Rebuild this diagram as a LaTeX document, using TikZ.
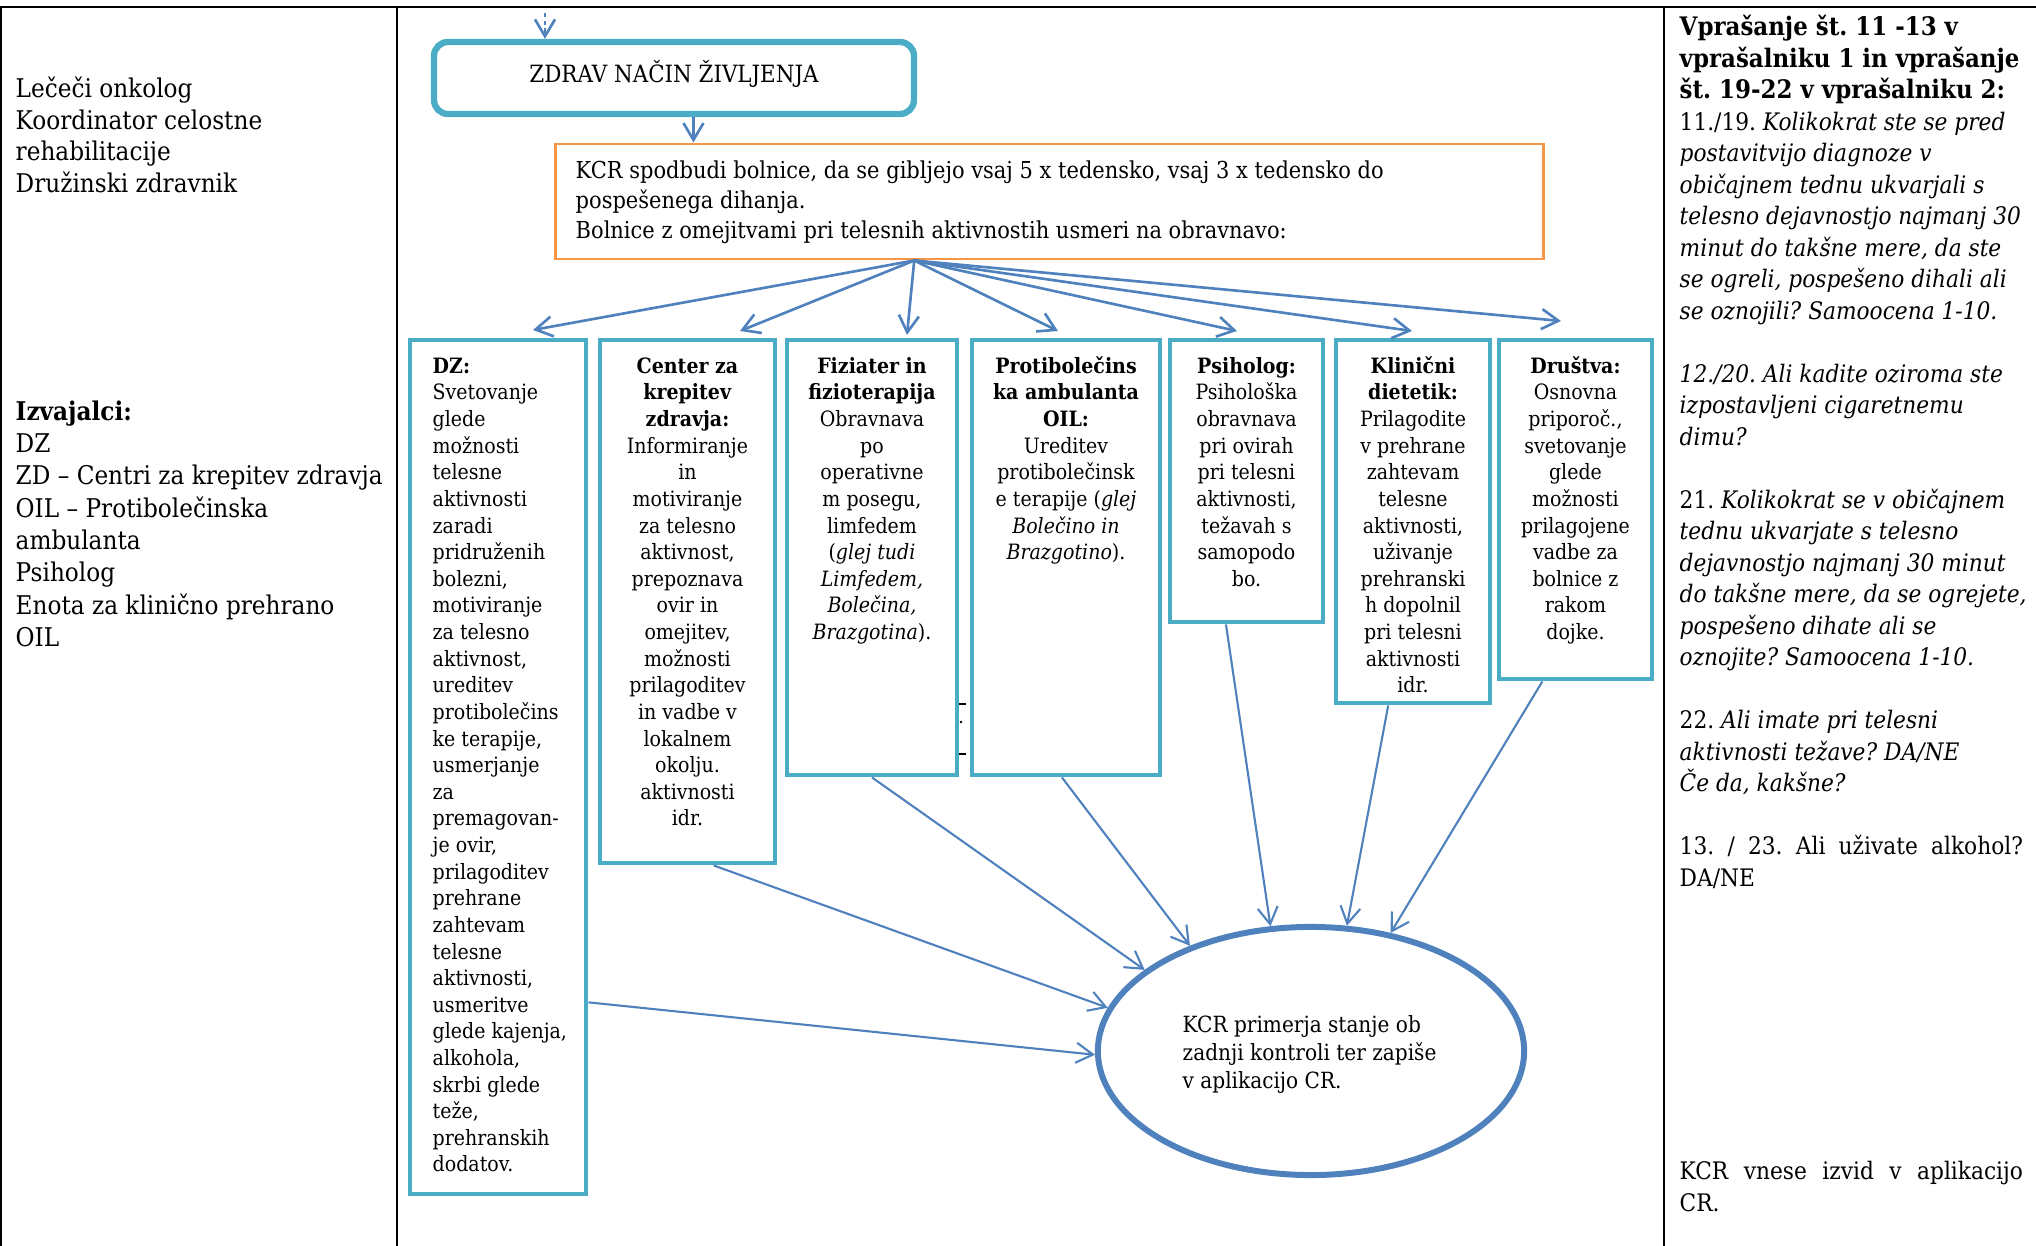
\documentclass[tikz,border=0pt]{standalone}
\usepackage{fontspec}
\setmainfont{DejaVu Serif}[FakeStretch=0.9]
\usetikzlibrary{arrows.meta,shapes.geometric,fit,calc}
\frenchspacing

\definecolor{boxblue}{HTML}{4BACC6}
\definecolor{lineblue}{HTML}{4F81BD}
\definecolor{frameorange}{HTML}{F79646}

% font sizes (1 unit = 0.01cm in the picture)
\newcommand{\fsCol}{\fontsize{7.33pt}{8.96pt}\selectfont}
\newcommand{\fsColB}{\fontsize{7.33pt}{9.19pt}\selectfont}
\newcommand{\fsRight}{\fontsize{6.86pt}{8.96pt}\selectfont}
\newcommand{\fsHead}{\fontsize{7.25pt}{8.96pt}\selectfont}
\newcommand{\fsTitle}{\fontsize{6.76pt}{8.5pt}\selectfont}
\newcommand{\fsMid}{\fontsize{6.63pt}{8.54pt}\selectfont}
\newcommand{\fsEll}{\fontsize{6.35pt}{7.97pt}\selectfont}
\newcommand{\fsBox}{\fontsize{6.0pt}{7.57pt}\selectfont}

\tikzset{
  rule/.style={line width=0.77pt, black},
  coltext/.style={inner sep=0pt, align=left, anchor=north west},
  stepbox/.style={draw=boxblue, line width=1.4pt, inner sep=0pt},
  titlebox/.style={draw=boxblue, line width=1.8pt, inner sep=0pt, rounded corners=0.14cm},
  kcrbox/.style={draw=frameorange, line width=0.85pt, inner sep=0pt},
  boxtext/.style={inner sep=0pt, align=center, anchor=north, font=\fsBox},
  flow/.style={draw=lineblue, line width=0.75pt, -{Straight Barb[length=4.8pt,width=5.7pt]}},
  thinflow/.style={draw=lineblue, line width=0.6pt, -{Straight Barb[length=4.8pt,width=5.7pt]}},
}

\begin{document}
\begin{tikzpicture}[x=0.01cm, y=-0.01cm]
\useasboundingbox (0,0) rectangle (2036,1246);

% table rules
\draw[rule] (0,7) -- (2036,7);
\draw[rule] (1,7) -- (1,1246);
\draw[rule] (397,7) -- (397,1246);
\draw[rule] (1664,7) -- (1664,1246);

% left column
\node[coltext, font=\fsCol] (roles) at (15,75)
  {\strut Lečeči onkolog\\Koordinator celostne\\rehabilitacije\\Družinski zdravnik};
\node[coltext, font=\fsColB] (providers) at (15,397)
  {\strut\textbf{Izvajalci:}\\DZ\\ZD – Centri za krepitev zdravja\\OIL – Protibolečinska\\ambulanta\\Psiholog\\Enota za klinično prehrano\\OIL};

% right column
\node[coltext, font=\fsRight] (questions) at (1679,13)
  {\strut{\fsHead\textbf{Vprašanje št. 11 -13 v}}\\
   {\fsHead\textbf{vprašalniku 1 in vprašanje}}\\
   {\fsHead\textbf{št. 19-22 v vprašalniku 2:}}\\
   11./19. \textit{Kolikokrat ste se pred}\\
   \textit{postavitvijo diagnoze v}\\
   \textit{običajnem tednu ukvarjali s}\\
   \textit{telesno dejavnostjo najmanj 30}\\
   \textit{minut do takšne mere, da ste}\\
   \textit{se ogreli, pospešeno dihali ali}\\
   \textit{se oznojili? Samoocena 1-10.}\\
   \strut\\
   \textit{12./20. Ali kadite oziroma ste}\\
   \textit{izpostavljeni cigaretnemu}\\
   \textit{dimu?}\\
   \strut\\
   21. \textit{Kolikokrat se v običajnem}\\
   \textit{tednu ukvarjate s telesno}\\
   \textit{dejavnostjo najmanj 30 minut}\\
   \textit{do takšne mere, da se ogrejete,}\\
   \textit{pospešeno dihate ali se}\\
   \textit{oznojite? Samoocena 1-10.}\\
   \strut\\
   22. \textit{Ali imate pri telesni}\\
   \textit{aktivnosti težave? DA/NE}\\
   \textit{Če da, kakšne?}\\
   \strut\\
   \makebox[3.43cm][s]{13. / 23. Ali uživate alkohol?}\\
   DA/NE};
\node[coltext, font=\fsRight] (report) at (1679,1157)
  {\strut\makebox[3.43cm][s]{KCR vnese izvid v aplikacijo}\\CR.};

% title box and entry arrow
\node[titlebox, fit={(434,42) (914,114)}] (tbox) {};
\node[inner sep=0pt, anchor=base, font=\fsTitle] (title) at (674,83) {ZDRAV NAČIN ŽIVLJENJA};
\coordinate (entry) at (545,13);
\draw[flow, dashed, dash pattern=on 1.2pt off 1pt] (entry) -- (entry |- tbox.north);

% KCR box
\node[kcrbox, fit={(555,144) (1543,259)}] (kcr) {};
\node[coltext, font=\fsMid] (kcrtext) at (575,157)
  {\strut KCR spodbudi bolnice, da se gibljejo vsaj 5 x tedensko, vsaj 3 x tedensko do\\
   pospešenega dihanja.\\
   Bolnice z omejitvami pri telesnih aktivnostih usmeri na obravnavo:};
\coordinate (down) at ($(tbox.south west)!0.54!(tbox.south east)$);
\draw[flow] (down) -- (down |- kcr.north);

% provider boxes
\node[stepbox, fit={(410,340) (586,1194)}] (b1) {};
\node[stepbox, fit={(600,340) (775,863)}] (b2) {};
\node[stepbox, fit={(787,340) (957,775)}] (b3) {};
\node[stepbox, fit={(972,340) (1160,775)}] (b4) {};
\node[stepbox, fit={(1170,340) (1323,622)}] (b5) {};
\node[stepbox, fit={(1336,340) (1490,703)}] (b6) {};
\node[stepbox, fit={(1499,340) (1652,679)}] (b7) {};

\node[boxtext, align=left, anchor=north west] (b1t) at (432,354)
  {\strut\textbf{DZ:}\\Svetovanje\\glede\\možnosti\\telesne\\aktivnosti\\zaradi\\pridruženih\\bolezni,\\motiviranje\\za telesno\\aktivnost,\\ureditev\\protibolečins\\ke terapije,\\usmerjanje\\za\\premagovan-\\je ovir,\\prilagoditev\\prehrane\\zahtevam\\telesne\\aktivnosti,\\usmeritve\\glede kajenja,\\alkohola,\\skrbi glede\\teže,\\prehranskih\\dodatov.};
\node[boxtext] (b2t) at (b2.north |- 0,354)
  {\strut\textbf{Center za}\\\textbf{krepitev}\\\textbf{zdravja:}\\Informiranje\\in\\motiviranje\\za telesno\\aktivnost,\\prepoznava\\ovir in\\omejitev,\\možnosti\\prilagoditev\\in vadbe v\\lokalnem\\okolju.\\aktivnosti\\idr.};
\node[boxtext] (b3t) at (b3.north |- 0,354)
  {\strut\textbf{Fiziater in}\\\textbf{fizioterapija}\\Obravnava\\po\\operativne\\m posegu,\\limfedem\\(\textit{glej tudi}\\\textit{Limfedem,}\\\textit{Bolečina,}\\\textit{Brazgotina}).};
\node[boxtext] (b4t) at (b4.north |- 0,354)
  {\strut\textbf{Protibolečins}\\\textbf{ka ambulanta}\\\textbf{OIL:}\\Ureditev\\protibolečinsk\\e terapije (\textit{glej}\\\textit{Bolečino in}\\\textit{Brazgotino}).};
\node[boxtext] (b5t) at (b5.north |- 0,354)
  {\strut\textbf{Psiholog:}\\Psihološka\\obravnava\\pri ovirah\\pri telesni\\aktivnosti,\\težavah s\\samopodo\\bo.};
\node[boxtext] (b6t) at (b6.north |- 0,354)
  {\strut\textbf{Klinični}\\\textbf{dietetik:}\\Prilagodite\\v prehrane\\zahtevam\\telesne\\aktivnosti,\\uživanje\\prehranski\\h dopolnil\\pri telesni\\aktivnosti\\idr.};
\node[boxtext] (b7t) at (b7.north |- 0,354)
  {\strut\textbf{Društva:}\\Osnovna\\priporoč.,\\svetovanje\\glede\\možnosti\\prilagojene\\vadbe za\\bolnice z\\rakom\\dojke.};

% stray marks between the two middle boxes
\draw[black, line width=0.6pt] (959,704) -- (966,704);
\fill[black] (961,722) circle (1.3);
\draw[black, line width=0.6pt] (959,754) -- (966,754);

% fan of arrows from the KCR box
\coordinate (fan) at ($(kcr.south west)!0.364!(kcr.south east)$);
\coordinate (t1) at (533,330);
\coordinate (t2) at (740,331);
\coordinate (t3) at (907,335);
\coordinate (t4) at (1058,331);
\coordinate (t5) at (1237,331);
\coordinate (t6) at (1412,331);
\coordinate (t7) at (1561,321);
\foreach \t in {t1,t2,t3,t4,t5,t6,t7}
  \draw[flow] (fan) -- (\t);

% closing ellipse
\node[ellipse, draw=lineblue, line width=1.7pt, minimum width=4.26cm, minimum height=2.48cm, inner sep=0pt] (ell) at (1311,1051) {};
\node[coltext, font=\fsEll] (elltext) at (1182,1012)
  {\strut KCR primerja stanje ob\\zadnji kontroli ter zapiše\\v aplikacijo CR.};

% arrows into the ellipse
\draw[thinflow] ($(b1.north east)!0.774!(b1.south east)$) -- (ell.181.6);
\draw[thinflow] ($(b2.south west)!0.646!(b2.south east)$) -- (ell.168);
\draw[thinflow] ($(b3.south west)!0.5!(b3.south east)$) -- (ell.154.7);
\draw[thinflow] ($(b4.south west)!0.479!(b4.south east)$) -- (ell.139.7);
\draw[thinflow] ($(b5.south west)!0.37!(b5.south east)$) -- (ell.108.6);
\draw[thinflow] ($(b6.south west)!0.344!(b6.south east)$) -- (ell.74.4);
\draw[thinflow] ($(b7.south west)!0.29!(b7.south east)$) -- (ell.56.7);

\end{tikzpicture}
\end{document}
